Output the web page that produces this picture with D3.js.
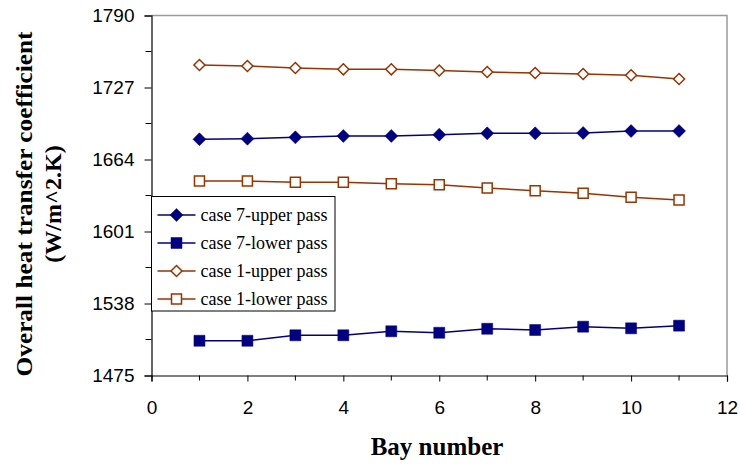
<!DOCTYPE html>
<html>
<head>
<meta charset="utf-8">
<script src="https://cdn.jsdelivr.net/npm/d3@7"></script>
<style>
  html, body { margin: 0; padding: 0; background: #fff; }
  svg { display: block; }
</style>
</head>
<body>
<svg id="chart" width="740" height="465"></svg>
<script>
// Bay numbers along the exchanger
const bays = [1, 2, 3, 4, 5, 6, 7, 8, 9, 10, 11];

// Overall heat transfer coefficient per bay (W/m^2.K)
const case7Upper = [1681.7, 1682.2, 1683.4, 1684.6, 1684.6, 1685.7, 1686.9, 1686.9, 1687.2, 1688.9, 1688.9];
const case7Lower = [1505.4, 1505.4, 1510.2, 1510.2, 1513.7, 1512.4, 1515.9, 1514.8, 1517.7, 1516.3, 1518.6];
const case1Upper = [1746.7, 1745.8, 1744.1, 1742.9, 1742.9, 1741.9, 1740.6, 1739.7, 1738.8, 1737.7, 1734.4];
const case1Lower = [1645.2, 1645.2, 1644.0, 1644.0, 1642.8, 1641.9, 1639.1, 1636.7, 1634.4, 1630.9, 1628.6];

const seriesNames = ["case 7-upper pass", "case 7-lower pass", "case 1-upper pass", "case 1-lower pass"];

// Axis ticks
const yTicks = [1475, 1538, 1601, 1664, 1727, 1790];
const xTicks = [0, 2, 4, 6, 8, 10, 12];

const NAVY = "#000080";
const BROWN = "#993300";

const series = [
  { name: seriesNames[0], values: case7Upper, color: NAVY, shape: "diamond", filled: true },
  { name: seriesNames[1], values: case7Lower, color: NAVY, shape: "square", filled: true },
  { name: seriesNames[2], values: case1Upper, color: BROWN, shape: "diamond", filled: false },
  { name: seriesNames[3], values: case1Lower, color: BROWN, shape: "square", filled: false }
];

const svg = d3.select("#chart");
const plot = { left: 151.5, right: 727, top: 15.5, bottom: 375.5 };

const x = d3.scaleLinear().domain([0, 12]).range([plot.left, plot.right]);
const y = d3.scaleLinear().domain([1475, 1790]).range([plot.bottom, plot.top]);

// plot area frame (grey top and right edges)
svg.append("path")
  .attr("d", `M${plot.left},${plot.top}H${plot.right}V${plot.bottom}`)
  .attr("fill", "none").attr("stroke", "#9a9a9a").attr("stroke-width", 1.5);

// Y axis: major ticks with labels, minor ticks halfway
const yMinor = d3.range(0, yTicks.length - 1).map(i => (yTicks[i] + yTicks[i + 1]) / 2);
const yAxis = svg.append("g").attr("transform", `translate(${plot.left},0)`);
yAxis.call(d3.axisLeft(y).tickValues(yTicks).tickFormat(d3.format("d")).tickSize(7).tickPadding(10))
  .call(g => g.select(".domain").attr("stroke", "#000").attr("stroke-width", 1.2))
  .call(g => g.selectAll(".tick line").attr("stroke", "#000").attr("stroke-width", 1))
  .call(g => g.selectAll(".tick text")
    .attr("font-family", "'Liberation Sans', Arial, sans-serif")
    .attr("font-size", 19).attr("fill", "#000"));
yAxis.selectAll(".minor").data(yMinor).join("line")
  .attr("class", "minor")
  .attr("x1", -6).attr("x2", 0)
  .attr("y1", d => y(d)).attr("y2", d => y(d))
  .attr("stroke", "#000");

// X axis: labelled even ticks, minor odd ticks
const xMinor = d3.range(1, 12, 2);
const xAxis = svg.append("g").attr("transform", `translate(0,${plot.bottom})`);
xAxis.call(d3.axisBottom(x).tickValues(xTicks).tickFormat(d3.format("d")).tickSize(6).tickPadding(19))
  .call(g => g.select(".domain").attr("stroke", "#000").attr("stroke-width", 1.2))
  .call(g => g.selectAll(".tick line").attr("stroke", "#000"))
  .call(g => g.selectAll(".tick text")
    .attr("font-family", "'Liberation Sans', Arial, sans-serif")
    .attr("font-size", 19).attr("fill", "#000"));
xAxis.selectAll(".minor").data(xMinor).join("line")
  .attr("class", "minor")
  .attr("x1", d => x(d)).attr("x2", d => x(d))
  .attr("y1", 0).attr("y2", 5)
  .attr("stroke", "#000");

// marker path generators
function markerPath(shape) {
  if (shape === "diamond") return "M0,-6.5L6.5,0L0,6.5L-6.5,0Z";
  return "M-5.5,-5.5H5.5V5.5H-5.5Z";
}
function openMarkerPath(shape) {
  if (shape === "diamond") return "M0,-5.5L5.5,0L0,5.5L-5.5,0Z";
  return "M-5,-5H5V5H-5Z";
}

const line = d3.line().x((d, i) => x(bays[i])).y(d => y(d));

series.forEach(s => {
  const g = svg.append("g");
  g.append("path")
    .attr("d", line(s.values))
    .attr("fill", "none")
    .attr("stroke", s.color)
    .attr("stroke-width", 1.5);
  g.selectAll("path.mk").data(s.values).join("path")
    .attr("class", "mk")
    .attr("transform", (d, i) => `translate(${x(bays[i])},${y(d)})`)
    .attr("d", s.filled ? markerPath(s.shape) : openMarkerPath(s.shape))
    .attr("fill", s.filled ? s.color : "#fff")
    .attr("stroke", s.color)
    .attr("stroke-width", s.filled ? 0.5 : 1.5);
});

// Legend
const legend = svg.append("g").attr("transform", "translate(151.5,196.5)");
legend.append("rect")
  .attr("width", 183.5).attr("height", 114.5)
  .attr("fill", "#fff").attr("stroke", "#000").attr("stroke-width", 1);
series.forEach((s, i) => {
  const cy = 18.5 + i * 28;
  const row = legend.append("g").attr("transform", `translate(0,${cy})`);
  row.append("line").attr("x1", 6).attr("x2", 44)
    .attr("y1", 0).attr("y2", 0)
    .attr("stroke", s.color).attr("stroke-width", 1.5);
  row.append("path")
    .attr("transform", "translate(25,0)")
    .attr("d", s.filled ? markerPath(s.shape) : openMarkerPath(s.shape))
    .attr("fill", s.filled ? s.color : "#fff")
    .attr("stroke", s.color)
    .attr("stroke-width", s.filled ? 0.5 : 1.5);
  row.append("text")
    .attr("x", 49).attr("y", 5.5)
    .attr("font-family", "'Liberation Serif', 'Times New Roman', serif")
    .attr("font-size", 18)
    .attr("fill", "#000")
    .text(s.name);
});

// Axis titles
svg.append("text")
  .attr("x", 437).attr("y", 455)
  .attr("text-anchor", "middle")
  .attr("font-family", "'Liberation Serif', 'Times New Roman', serif")
  .attr("font-weight", "bold").attr("font-size", 25)
  .text("Bay number");

const yTitle = svg.append("text")
  .attr("transform", "translate(0,204) rotate(-90)")
  .attr("text-anchor", "middle")
  .attr("font-family", "'Liberation Serif', 'Times New Roman', serif")
  .attr("font-weight", "bold").attr("font-size", 24);
yTitle.append("tspan").attr("x", 0).attr("y", 32)
  .attr("textLength", 345).attr("lengthAdjust", "spacingAndGlyphs")
  .text("Overall heat transfer coefficient");
yTitle.append("tspan").attr("x", 0).attr("y", 61).text("(W/m^2.K)");
</script>
</body>
</html>
